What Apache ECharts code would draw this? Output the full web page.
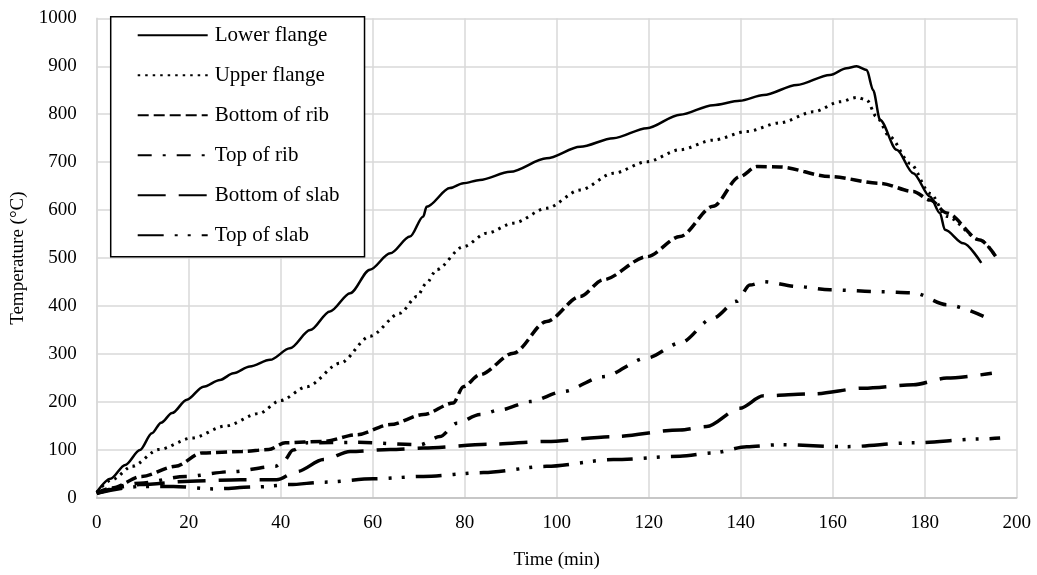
<!DOCTYPE html>
<html>
<head>
<meta charset="utf-8">
<title>Temperature vs time</title>
<script src="https://cdn.jsdelivr.net/npm/echarts@6/dist/echarts.min.js"></script>
<style>
  * { margin: 0; padding: 0; }
  body { background: #fff; }
  #chart { width: 1037px; height: 575px; }
</style>
</head>
<body>
<div id="chart"></div>
<script>
// series names (legend order)
const seriesNames = ['Lower flange', 'Upper flange', 'Bottom of rib', 'Top of rib', 'Bottom of slab', 'Top of slab']

// time (min) / temperature (°C)
const lowerFlangeTime = [0, 3, 6.2, 9.4, 12, 14, 16.4, 19.6, 23.2, 26.8, 29.7, 33.3, 37.7, 42, 46.4, 50.7, 55.1, 59.4, 63.8, 68.1, 71, 71.7, 76.8, 79.7, 83.3, 89.9, 97.8, 105.1, 112.3, 119.6, 126.8, 134, 139.8, 145, 152.2, 159.4, 163, 165.2, 167.4, 168.8, 170.3, 173.9, 177.5, 181.2, 183.3, 184.4, 188.4, 192.3]
const lowerFlangeTemp = [12, 40, 69, 100, 135, 157, 177, 205, 232, 246, 260, 274, 288, 312, 350, 389, 427, 476, 510, 545, 587, 607, 646, 656, 663, 680, 708, 732, 750, 771, 799, 819, 828, 840, 861, 882, 896, 900, 892, 850, 788, 726, 677, 628, 594, 559, 531, 490]

const upperFlangeTime = [0, 3.3, 7.7, 13.5, 20.7, 28, 35.2, 39.9, 45.7, 52.9, 59.4, 65.9, 69.6, 71.7, 73.9, 79.7, 84.8, 90.6, 97.8, 105.1, 112.3, 119.6, 126.8, 134, 141.3, 148.5, 155.8, 161.6, 165.2, 167.4, 169.5, 172.4, 176.8, 181.2, 184.8, 192, 195.7]
const upperFlangeTemp = [12, 38, 66, 101, 125, 150, 176, 203, 232, 281, 337, 385, 420, 448, 476, 524, 552, 573, 604, 642, 677, 701, 726, 746, 764, 782, 805, 826, 835, 830, 795, 753, 698, 635, 587, 538, 500]

const bottomRibTime = [0, 3.3, 9.8, 17.1, 22.9, 31.6, 37.4, 41, 49.3, 56.5, 63.8, 71, 77.5, 79.7, 83.3, 90.6, 97.8, 105.1, 110.1, 119.6, 126.8, 134, 139.8, 143.5, 148.5, 159.4, 170.3, 177.5, 181.2, 184.8, 192, 195.7]
const bottomRibTemp = [10, 21, 45, 66, 94, 97, 101, 115, 118, 132, 153, 174, 198, 232, 257, 302, 368, 420, 455, 503, 545, 608, 670, 691, 690, 670, 656, 639, 621, 594, 538, 500]

const topRibTime = [0, 9.4, 19.3, 29.4, 38.8, 40.5, 42.7, 45.7, 56.5, 70.3, 74.6, 78.3, 83.3, 87.8, 94.2, 101.4, 110.1, 119.6, 126.8, 134, 139.1, 142, 145, 152.2, 159.4, 170.3, 177.5, 184.8, 193.6]
const topRibTemp = [10, 31, 45, 55, 66, 75, 100, 115, 116, 111, 128, 156, 174, 184, 201, 222, 253, 292, 323, 375, 410, 444, 451, 441, 434, 430, 428, 403, 375]

const bottomSlabTime = [0, 9.4, 20.3, 31.2, 39.1, 43.5, 49.3, 55.1, 63.8, 71, 85.5, 97.8, 112.3, 126.8, 132.6, 139.8, 144.9, 155.8, 166.7, 177.5, 184.8, 194.6]
const bottomSlabTemp = [10, 28, 35, 38, 38, 55, 80, 97, 101, 104, 112, 118, 128, 142, 149, 187, 213, 217, 229, 236, 250, 260]

const topSlabTime = [0, 9.4, 16.7, 25.3, 34.8, 42, 49.3, 60.1, 71, 84.1, 97.8, 112.3, 126.8, 134, 141.3, 148.5, 163, 177.5, 192, 196.4]
const topSlabTemp = [10, 24, 24, 19, 23, 28, 33, 40, 45, 53, 66, 80, 87, 94, 107, 111, 107, 115, 123, 125]

const pair = (xs, ys) => xs.map((x, i) => [x, ys[i]])

const seriesData = [
  pair(lowerFlangeTime, lowerFlangeTemp),
  pair(upperFlangeTime, upperFlangeTemp),
  pair(bottomRibTime, bottomRibTemp),
  pair(topRibTime, topRibTemp),
  pair(bottomSlabTime, bottomSlabTemp),
  pair(topSlabTime, topSlabTemp)
]

// line looks, same order as the names
const lineLooks = [
  { width: 2.5, type: 'solid' },
  { width: 3, type: [2.5, 5] },
  { width: 3.5, type: [11, 5] },
  { width: 3.5, type: [14, 11, 3, 11] },
  { width: 3.5, type: [28, 13] },
  { width: 3.5, type: [26, 11, 3, 10, 3, 11] }
]

const font = 'Liberation Serif, Times New Roman, serif'

const chart = echarts.init(document.getElementById('chart'), null, { renderer: 'canvas' })
chart.setOption({
  backgroundColor: '#fff',
  animation: false,
  textStyle: { fontFamily: font, color: '#000' },
  grid: { left: 96.7, right: 20.3, top: 18.3, bottom: 76.7 },
  legend: {
    orient: 'vertical',
    left: 110.7,
    top: 16.7,
    padding: [8, 25, 11, 26],
    itemWidth: 70,
    itemHeight: 14,
    itemGap: 19,
    borderColor: '#000',
    borderWidth: 1.5,
    backgroundColor: '#fff',
    itemStyle: { opacity: 0 },
    textStyle: { fontFamily: font, fontSize: 21, lineHeight: 20, color: '#000', padding: [0, 0, 0, 2] },
    data: seriesNames
  },
  xAxis: {
    type: 'value',
    min: 0,
    max: 200,
    interval: 20,
    name: 'Time (min)',
    nameLocation: 'middle',
    nameGap: 53,
    nameTextStyle: { fontFamily: font, fontSize: 19, color: '#000' },
    axisLine: { show: true, lineStyle: { color: '#bfbfbf', width: 1.5 } },
    axisTick: { show: false },
    axisLabel: { fontFamily: font, fontSize: 19, color: '#000', margin: 16 },
    splitLine: { show: true, lineStyle: { color: '#d9d9d9', width: 1.5 } }
  },
  yAxis: {
    type: 'value',
    min: 0,
    max: 1000,
    interval: 100,
    name: 'Temperature (°C)',
    nameLocation: 'middle',
    nameGap: 68,
    nameTextStyle: { fontFamily: font, fontSize: 19, color: '#000' },
    axisLine: { show: true, lineStyle: { color: '#d9d9d9', width: 1.5 } },
    axisTick: { show: false },
    axisLabel: { fontFamily: font, fontSize: 19, color: '#000', margin: 20, formatter: v => String(v) },
    splitLine: { show: true, lineStyle: { color: '#d9d9d9', width: 1.5 } }
  },
  series: seriesNames.map((name, i) => ({
    name: name,
    type: 'line',
    data: seriesData[i],
    symbol: 'none',
    smooth: 0.3,
    smoothMonotone: 'x',
    color: '#000',
    lineStyle: { color: '#000', width: lineLooks[i].width, type: lineLooks[i].type, cap: 'butt' },
    z: 10 - i
  }))
})
</script>
</body>
</html>
